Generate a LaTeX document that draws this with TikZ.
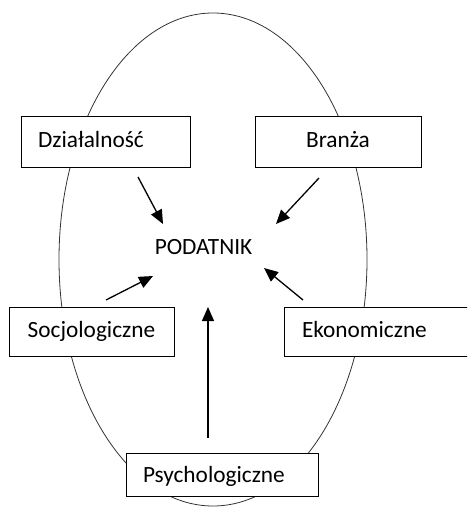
\documentclass[tikz,border=0pt]{standalone}
\usepackage{fontspec}
\setmainfont{Carlito}
\usetikzlibrary{arrows.meta}
\begin{document}
\begin{tikzpicture}[x=1pt,y=-1pt,
  box/.style={draw=black,line width=0.9pt,fill=white,inner ysep=0pt,
    font=\fontsize{23.3}{26}\selectfont,text height=16pt,text depth=5pt},
  arr/.style={line width=1.3pt,-{Triangle[length=14pt,width=12pt]}},
  oval/.style={draw=black!80,line width=0.8pt}]
\clip (0,0) rectangle (467,508);
\draw[oval] (213,259.5) ellipse [x radius=154,y radius=246.5];
\node[box,minimum width=169pt,minimum height=51pt,inner xsep=17pt,text width=135pt,align=left] (d) at (105.5,141.5) {Działalność};
\node[box,minimum width=166pt,minimum height=51pt] (b) at (338,141.5) {Branża};
\node[box,minimum width=165pt,minimum height=49pt] (s) at (91.5,331.5) {Socjologiczne};
\node[box,minimum width=200pt,minimum height=49pt,inner xsep=18pt,text width=164pt,align=left] (e) at (384,331.5) {Ekonomiczne};
\node[box,minimum width=192pt,minimum height=43pt,inner xsep=17pt,text width=158pt,align=left,text height=18pt,text depth=3pt] (p) at (222,474.5) {Psychologiczne};
\node[anchor=base,font=\fontsize{23.3}{26}\selectfont,inner sep=0pt] (t) at (203.5,254) {PODATNIK};
\coordinate (d1) at (138,177);
\coordinate (d2) at (163,224);
\coordinate (b1) at (319,178);
\coordinate (b2) at (276,224);
\coordinate (s1) at (106,300);
\coordinate (s2) at (153,276);
\coordinate (e1) at (303,300);
\coordinate (e2) at (264,268);
\coordinate (p1) at (208,438);
\coordinate (p2) at (208,307);
\draw[arr] (d1) -- (d2);
\draw[arr] (b1) -- (b2);
\draw[arr] (s1) -- (s2);
\draw[arr] (e1) -- (e2);
\draw[arr] (p1) -- (p2);
\end{tikzpicture}
\end{document}
